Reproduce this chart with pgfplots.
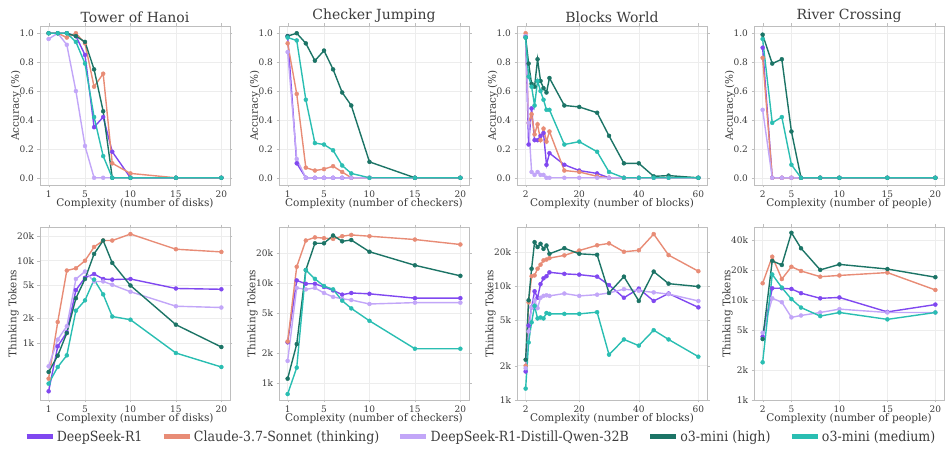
\documentclass[border=0pt]{standalone}
\usepackage{fontspec}
\setmainfont{DejaVu Serif}
\newfontfamily\legendfont{DejaVu Serif Condensed}
\usepackage{pgfplots}
\pgfplotsset{compat=1.18}

\definecolor{cR}{RGB}{128,72,240}
\definecolor{cC}{RGB}{232,140,118}
\definecolor{cD}{RGB}{194,166,248}
\definecolor{cH}{RGB}{28,116,102}
\definecolor{cM}{RGB}{42,190,178}
\definecolor{frame}{RGB}{190,190,190}
\definecolor{txt}{RGB}{60,60,60}

\pgfplotscreateplotcyclelist{models}{
  {cR, mark=*, mark options={fill=cR, line width=0.4pt}},
  {cC, mark=*, mark options={fill=cC, line width=0.4pt}},
  {cD, mark=*, mark options={fill=cD, line width=0.4pt}},
  {cH, mark=*, mark options={fill=cH, line width=0.4pt}},
  {cM, mark=*, mark options={fill=cM, line width=0.4pt}}}

\pgfplotsset{
  base/.style={
    scale only axis, width=190pt,
    axis line style={frame}, grid=major, grid style={gray!14, line width=0.5pt},
    tick align=outside, tick pos=both, major tick length=2.5pt, minor tick length=0pt,
    tick style={frame},
    ticklabel style={font=\fontsize{9}{10}\selectfont, text=txt},
    /pgf/number format/assume math mode=true,
    label style={font=\fontsize{10.5}{12}\selectfont, text=txt},
    title style={font=\fontsize{14}{16}\selectfont, text=txt, yshift=-6pt},
    xlabel style={yshift=6pt}, ylabel style={yshift=-8.5pt},
    cycle list name=models,
    every axis plot/.append style={line width=1.4pt, mark size=2pt},
  },
  acc/.style={base, height=159pt, ymin=-0.05, ymax=1.05, ytick={0,0.2,...,1.0},
    ylabel={Accuracy (\%)},
    yticklabel style={/pgf/number format/.cd, fixed, fixed zerofill, precision=1}},
  tok/.style={base, height=173pt, ylabel={Thinking Tokens}},
}

\begin{document}
\begin{tikzpicture}
\useasboundingbox (0pt,0pt) rectangle (945pt,453pt);

% ---------- top row: accuracy ----------
\begin{axis}[acc, at={(40pt,268pt)}, anchor=south west, title={Tower of Hanoi},
  xmin=0.05, xmax=20.95, xtick={1,5,10,15,20}, xlabel={Complexity (number of disks)}]
\addplot coordinates {(1,1.0)(2,1.0)(3,1.0)(4,0.98)(5,0.85)(6,0.35)(7,0.42)(8,0.18)(10,0.0)(15,0.0)(20,0.0)};
\addplot coordinates {(1,1.0)(2,1.0)(3,0.97)(4,1.0)(5,0.93)(6,0.63)(7,0.72)(8,0.10)(10,0.03)(15,0.0)(20,0.0)};
\addplot coordinates {(1,0.96)(2,1.0)(3,0.92)(4,0.60)(5,0.22)(6,0.0)(7,0.0)(8,0.0)(10,0.0)(15,0.0)(20,0.0)};
\addplot coordinates {(1,1.0)(2,1.0)(3,1.0)(4,0.98)(5,0.94)(6,0.75)(7,0.46)(8,0.0)(10,0.0)(15,0.0)(20,0.0)};
\addplot coordinates {(1,1.0)(2,1.0)(3,1.0)(4,0.94)(5,0.79)(6,0.42)(7,0.15)(8,0.0)(10,0.0)(15,0.0)(20,0.0)};
\end{axis}

\begin{axis}[acc, at={(279pt,268pt)}, anchor=south west, title={Checker Jumping},
  xmin=0.05, xmax=20.95, xtick={1,5,10,15,20}, xlabel={Complexity (number of checkers)}]
\addplot coordinates {(1,0.98)(2,0.10)(3,0)(4,0)(5,0)(6,0)(7,0)(8,0)(10,0)(15,0)(20,0)};
\addplot coordinates {(1,0.93)(2,0.58)(3,0.07)(4,0.05)(5,0.06)(6,0.08)(7,0.04)(8,0.0)(10,0)(15,0)(20,0)};
\addplot coordinates {(1,0.87)(2,0.13)(3,0)(4,0)(5,0)(6,0)(7,0)(8,0)(10,0)(15,0)(20,0)};
\addplot coordinates {(1,0.98)(2,1.0)(3,0.93)(4,0.81)(5,0.88)(6,0.75)(7,0.59)(8,0.50)(10,0.11)(15,0.0)(20,0.0)};
\addplot coordinates {(1,0.97)(2,0.95)(3,0.54)(4,0.24)(5,0.23)(6,0.19)(7,0.085)(8,0.03)(10,0.0)(15,0)(20,0)};
\end{axis}

\begin{axis}[acc, at={(517pt,268pt)}, anchor=south west, title={Blocks World},
  xmin=-0.9, xmax=62.9, xtick={2,20,40,60}, xlabel={Complexity (number of blocks)}]
\addplot coordinates {(2,0.98)(3,0.23)(4,0.48)(5,0.26)(6,0.26)(7,0.29)(8,0.31)(9,0.09)(10,0.17)(15,0.09)(20,0.05)(26,0.03)(30,0.0)(35,0)(40,0)(45,0)(50,0)(60,0)};
\addplot coordinates {(2,1.0)(3,0.38)(4,0.44)(5,0.30)(6,0.37)(7,0.26)(8,0.34)(9,0.25)(10,0.32)(15,0.05)(20,0.04)(26,0.01)(30,0)(35,0)(40,0)(45,0)(50,0)(60,0)};
\addplot coordinates {(2,0.98)(3,0.38)(4,0.04)(5,0.02)(6,0.04)(7,0.02)(8,0.02)(9,0.0)(10,0.0)(15,0)(20,0)(26,0)(30,0)(35,0)(40,0)(45,0)(50,0)(60,0)};
\addplot coordinates {(2,0.97)(3,0.79)(4,0.65)(5,0.63)(6,0.82)(7,0.67)(8,0.62)(9,0.59)(10,0.69)(15,0.50)(20,0.49)(26,0.45)(30,0.29)(35,0.10)(40,0.10)(45,0.01)(50,0.015)(60,0.0)};
\addplot coordinates {(2,0.97)(3,0.70)(4,0.63)(5,0.50)(6,0.67)(7,0.60)(8,0.54)(9,0.47)(10,0.47)(15,0.23)(20,0.25)(26,0.18)(30,0.04)(35,0)(40,0)(45,0)(50,0)(60,0)};
\end{axis}

\begin{axis}[acc, at={(754pt,268pt)}, anchor=south west, title={River Crossing},
  xmin=1.1, xmax=20.9, xtick={2,5,10,15,20}, xlabel={Complexity (number of people)}]
\addplot coordinates {(2,0.90)(3,0)(4,0)(5,0)(6,0)(8,0)(10,0)(15,0)(20,0)};
\addplot coordinates {(2,0.83)(3,0)(4,0)(5,0)(6,0)(8,0)(10,0)(15,0)(20,0)};
\addplot coordinates {(2,0.47)(3,0)(4,0)(5,0)(6,0)(8,0)(10,0)(15,0)(20,0)};
\addplot coordinates {(2,0.99)(3,0.79)(4,0.82)(5,0.32)(6,0)(8,0)(10,0)(15,0)(20,0)};
\addplot coordinates {(2,0.96)(3,0.38)(4,0.42)(5,0.09)(6,0)(8,0)(10,0)(15,0)(20,0)};
\end{axis}

% ---------- bottom row: thinking tokens ----------
\begin{axis}[tok, ymode=log, at={(40pt,53pt)}, anchor=south west,
  xmin=0.05, xmax=20.95, xtick={1,5,10,15,20}, xlabel={Complexity (number of disks)},
  ymin=203, ymax=25700, ytick={1000,2000,5000,10000,20000}, yticklabels={1k,2k,5k,10k,20k},
  legend style={draw=none, fill=none, legend columns=5, at={(axis description cs:2.32,-0.212)}, anchor=center,
    font=\legendfont\fontsize{14}{16}\selectfont, text=txt,
    /tikz/every even column/.append style={column sep=17pt},
    /tikz/every odd column/.append style={column sep=0pt}},
  legend image code/.code={\draw[line width=4.5pt] (0pt,0pt) -- (26pt,0pt);}]
\addplot coordinates {(1,259)(2,911)(3,1350)(4,4400)(5,6200)(6,6900)(7,6000)(8,5900)(10,6000)(15,4600)(20,4500)};
\addplot coordinates {(1,369)(2,1800)(3,7600)(4,8100)(5,10000)(6,14700)(7,17600)(8,17600)(10,21100)(15,13800)(20,12800)};
\addplot coordinates {(1,521)(2,1100)(3,1600)(4,6000)(5,7400)(6,5600)(7,5600)(8,5100)(10,4200)(15,2800)(20,2700)};
\addplot coordinates {(1,445)(2,702)(3,1320)(4,3500)(5,6000)(6,12100)(7,17600)(8,9400)(10,5000)(15,1670)(20,894)};
\addplot coordinates {(1,321)(2,511)(3,708)(4,2470)(5,3300)(6,5900)(7,3900)(8,2100)(10,1920)(15,756)(20,511)};
\addlegendentry{DeepSeek-R1}
\addlegendentry{Claude-3.7-Sonnet (thinking)}
\addlegendentry{DeepSeek-R1-Distill-Qwen-32B}
\addlegendentry{o3-mini (high)}
\addlegendentry{o3-mini (medium)}
\end{axis}

\begin{axis}[tok, ymode=log, at={(279pt,53pt)}, anchor=south west,
  xmin=0.05, xmax=20.95, xtick={1,5,10,15,20}, xlabel={Complexity (number of checkers)},
  ymin=671, ymax=36900, ytick={1000,2000,5000,10000,20000}, yticklabels={1k,2k,5k,10k,20k}]
\addplot coordinates {(1,2550)(2,10700)(3,9900)(4,9900)(5,9200)(6,8500)(7,7700)(8,8000)(10,7850)(15,7100)(20,7100)};
\addplot coordinates {(1,2600)(2,14700)(3,27000)(4,29000)(5,28500)(6,28000)(7,29800)(8,30700)(10,29800)(15,27600)(20,24600)};
\addplot coordinates {(1,1660)(2,9000)(3,8700)(4,9000)(5,8000)(6,7300)(7,7000)(8,6800)(10,6200)(15,6400)(20,6400)};
\addplot coordinates {(1,1100)(2,2450)(3,13600)(4,25300)(5,25300)(6,30300)(7,26500)(8,27300)(10,20800)(15,15200)(20,11900)};
\addplot coordinates {(1,770)(2,1420)(3,13600)(4,11100)(5,9400)(6,8700)(7,6700)(8,5600)(10,4200)(15,2200)(20,2200)};
\end{axis}

\begin{axis}[tok, ymode=log, at={(517pt,53pt)}, anchor=south west,
  xmin=-0.9, xmax=62.9, xtick={2,20,40,60}, xlabel={Complexity (number of blocks)},
  ymin=1000, ymax=33000, ytick={1000,2000,5000,10000,20000}, yticklabels={1k,2k,5k,10k,20k}]
\addplot coordinates {(2,1780)(3,4500)(4,6500)(5,9000)(6,7900)(7,10400)(8,11700)(9,12200)(10,13200)(15,12800)(20,12600)(26,12100)(30,10200)(35,7900)(40,9500)(45,7400)(50,8600)(60,6500)};
\addplot coordinates {(2,2000)(3,7200)(4,12200)(5,12400)(6,14200)(7,15400)(8,16800)(9,17100)(10,17600)(15,18600)(20,20500)(26,22800)(30,23700)(35,20000)(40,20600)(45,28600)(50,18700)(60,13500)};
\addplot coordinates {(2,1900)(3,4000)(4,6500)(5,7500)(6,6400)(7,7900)(8,8200)(9,8300)(10,8200)(15,8600)(20,8200)(26,8400)(30,8700)(35,9400)(40,9100)(45,8800)(50,8500)(60,7400)};
\addplot coordinates {(2,2260)(3,7500)(4,14200)(5,24300)(6,22000)(7,23500)(8,21200)(9,22700)(10,19200)(15,21500)(20,19200)(26,18800)(30,8700)(35,12100)(40,7400)(45,13400)(50,10500)(60,9900)};
\addplot coordinates {(2,1260)(3,3200)(4,4800)(5,6700)(6,5200)(7,5300)(8,5200)(9,5800)(10,5700)(15,5700)(20,5700)(26,5900)(30,2500)(35,3400)(40,3000)(45,4100)(50,3400)(60,2400)};
\end{axis}

\begin{axis}[tok, ymode=log, at={(754pt,53pt)}, anchor=south west,
  xmin=1.1, xmax=20.9, xtick={2,5,10,15,20}, xlabel={Complexity (number of people)},
  ymin=1000, ymax=53700, ytick={1000,2000,5000,10000,20000,40000}, yticklabels={1k,2k,5k,10k,20k,40k}]
\addplot coordinates {(2,4300)(3,13100)(4,13100)(5,12900)(6,11700)(8,10400)(10,10600)(15,7600)(20,9000)};
\addplot coordinates {(2,14700)(3,27100)(4,16200)(5,21500)(6,19500)(8,17100)(10,17600)(15,18800)(20,12600)};
\addplot coordinates {(2,4700)(3,10400)(4,9500)(5,6700)(6,7000)(8,7500)(10,8100)(15,7500)(20,7500)};
\addplot coordinates {(2,4070)(3,24600)(4,22400)(5,47000)(6,32900)(8,20000)(10,22700)(15,20400)(20,16900)};
\addplot coordinates {(2,2380)(3,18000)(4,13300)(5,10200)(6,8400)(8,6900)(10,7500)(15,6400)(20,7500)};
\end{axis}
\end{tikzpicture}
\end{document}
